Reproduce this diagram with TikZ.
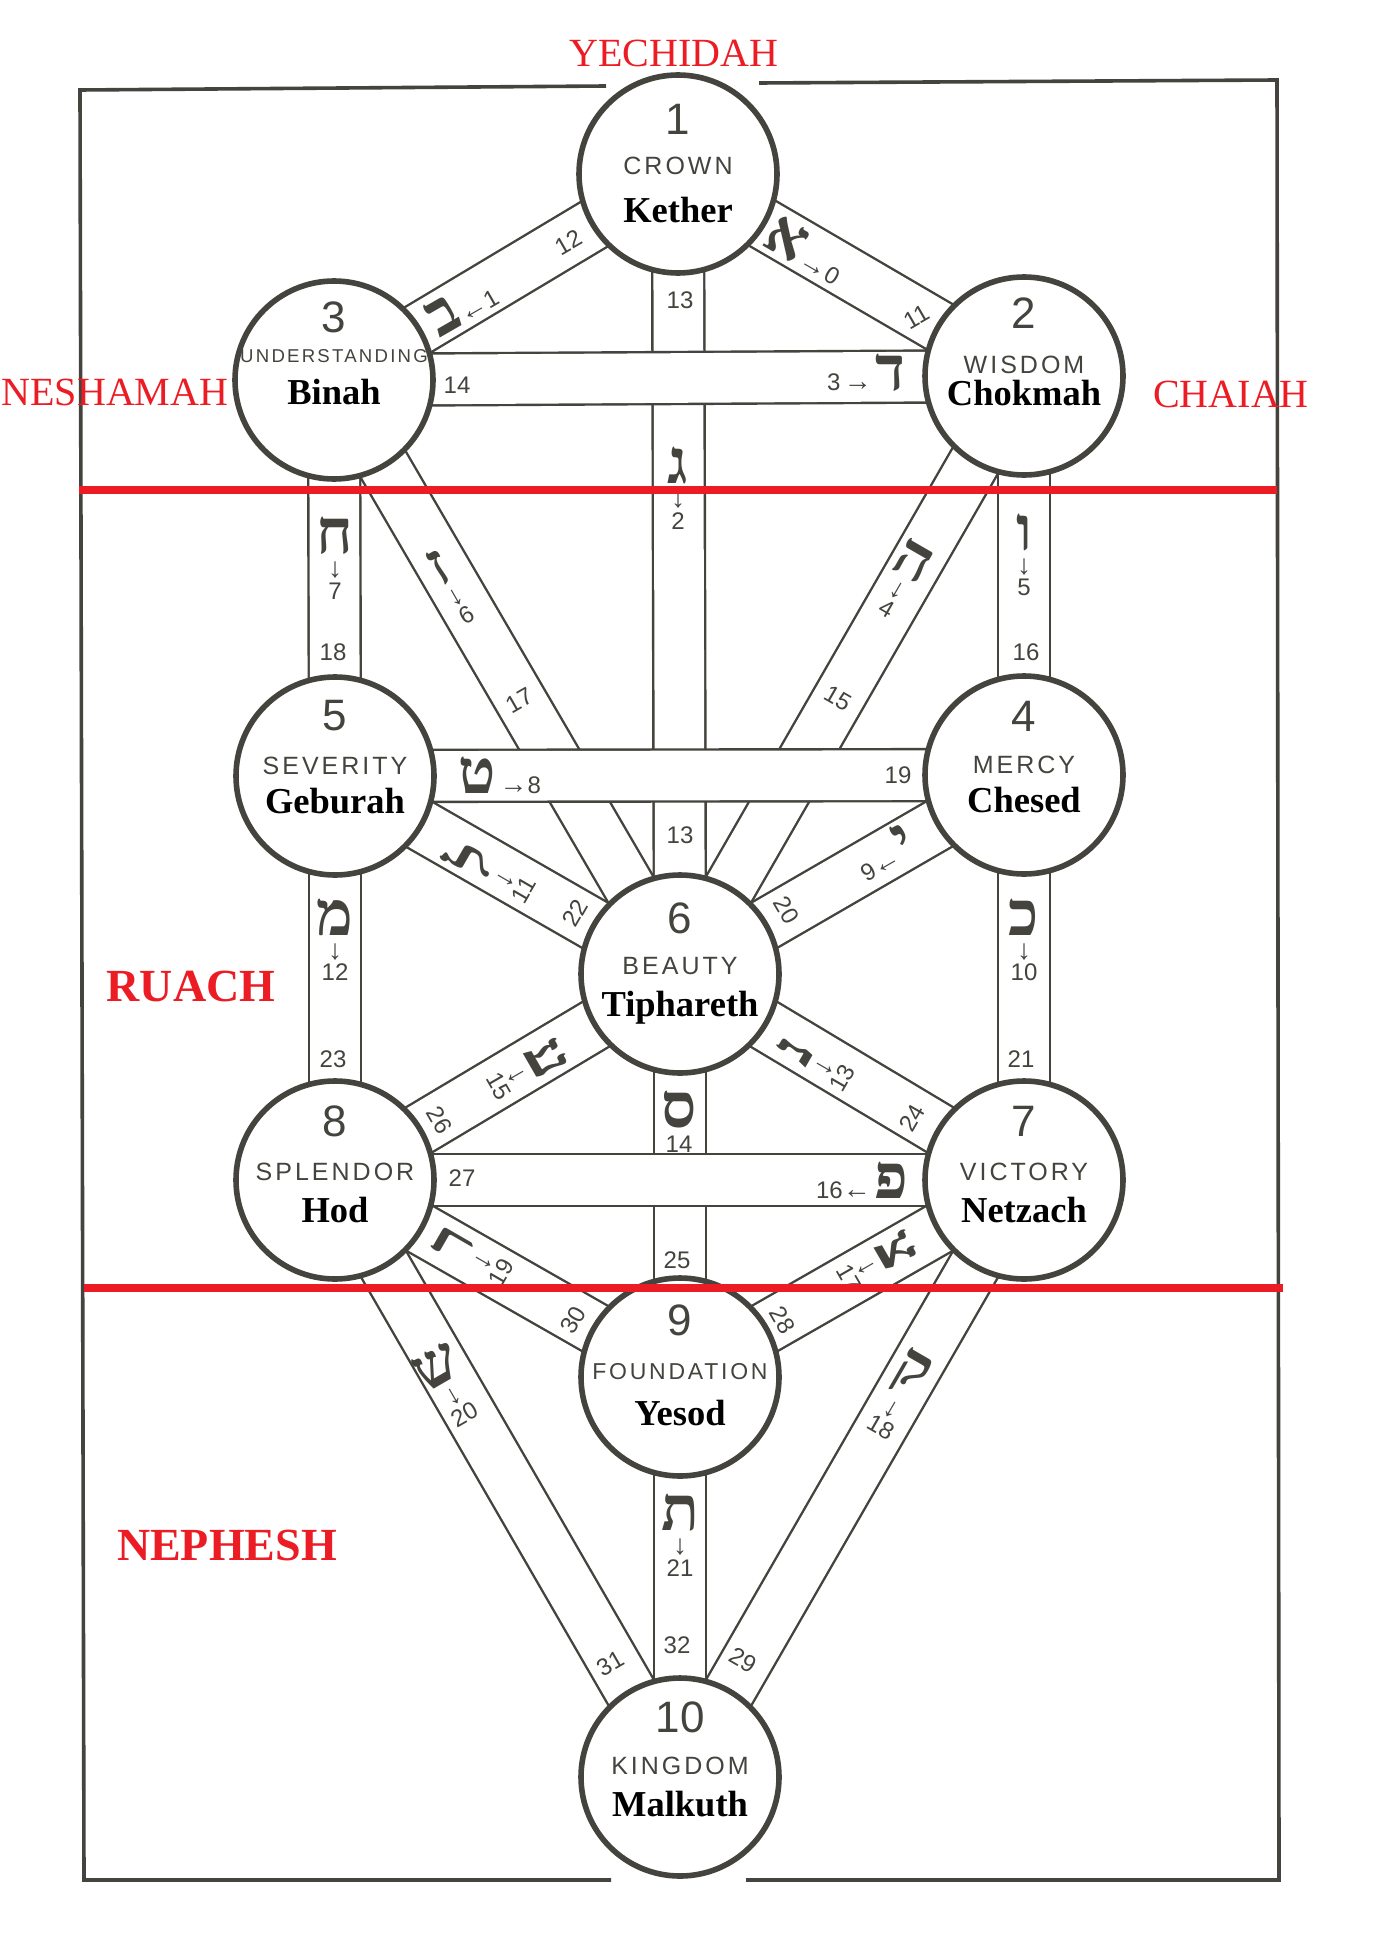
\documentclass[tikz,border=0pt]{standalone}
\usepackage{fontspec}
\setmainfont{Liberation Serif}
\setsansfont{Liberation Sans}
\newfontfamily\capfont[LetterSpace=12]{Liberation Sans}
\newfontfamily\hebfont[Script=Hebrew]{Liberation Serif}
\TeXXeTstate=1
\usepackage{tikz}
\usetikzlibrary{calc,backgrounds}
\definecolor{ink}{HTML}{44433D}
\definecolor{soulred}{HTML}{EC1C24}
% letter, arrow and number inside a path
\newcommand\hebl[1]{{\hebfont\bfseries\fontsize{31pt}{31pt}\selectfont\beginR#1\endR}}
\newcommand\arrw[1]{{\sffamily\bfseries\fontsize{14pt}{14pt}\selectfont#1}}
\newcommand\pnum[1]{{\sffamily\fontsize{12pt}{12pt}\selectfont#1}}

\begin{document}
\begin{tikzpicture}[x=0.5pt,y=-0.5pt,
  sefira/.style={circle,draw=ink,line width=2.8pt,fill=white,minimum size=99pt,inner sep=0pt},
  band/.style={draw=ink,line width=1.2pt,double=white,double distance=24.8pt},
  numtxt/.style={font=\sffamily\fontsize{22pt}{22pt}\selectfont,text=ink,inner sep=0pt,text height=15.7pt,text depth=0pt},
  captxt/.style={font=\capfont\fontsize{12.5pt}{12.5pt}\selectfont,text=ink,inner sep=0pt,text height=9pt,text depth=0pt},
  nametxt/.style={font=\bfseries\fontsize{18.25pt}{18.25pt}\selectfont,text=black,inner sep=0pt,text height=12pt,text depth=0pt},
  pathno/.style={font=\sffamily\fontsize{12pt}{12pt}\selectfont,text=ink,inner sep=0pt,text height=8.6pt,text depth=0pt},
  lstack/.style={align=center,inner sep=0pt,text=ink,font=\fontsize{1pt}{1pt}\selectfont},
  lrow/.style={inner sep=0pt,text=ink},
  edgeline/.style={draw=ink,line width=1.8pt},
  soulline/.style={draw=soulred,line width=4pt},
  soulname/.style={text=soulred,inner sep=0pt,font=\fontsize{20pt}{20pt}\selectfont,text height=13.2pt,text depth=0pt},
  bigsoul/.style={soulname,font=\bfseries\fontsize{23pt}{23pt}\selectfont,text height=15.2pt}]
\useasboundingbox (0,0) rectangle (1387,1958);

% the ten sephiroth
\node[sefira] (kether) at (678,174) {};
\node[numtxt] (kether-num) at ($(kether)+(0,-55)$) {1};
\node[captxt] (kether-cap) at ($(kether)+(0,-8)$) {CROWN};
\node[nametxt] (kether-name) at ($(kether)+(0,37)$) {Kether};

\node[sefira] (chokmah) at (1024,376) {};
\node[numtxt] (chokmah-num) at ($(chokmah)+(0,-63)$) {2};
\node[captxt] (chokmah-cap) at ($(chokmah)+(0,-12)$) {WISDOM};
\node[nametxt] (chokmah-name) at ($(chokmah)+(0,17)$) {Chokmah};

\node[sefira] (binah) at (334,380) {};
\node[numtxt] (binah-num) at ($(binah)+(0,-63)$) {3};
\node[captxt,font=\capfont\fontsize{9.3pt}{9.3pt}\selectfont,text height=6.7pt] (binah-cap) at ($(binah)+(0,-24)$) {UNDERSTANDING};
\node[nametxt] (binah-name) at ($(binah)+(0,12)$) {Binah};

\node[sefira] (chesed) at (1024,775) {};
\node[numtxt] (chesed-num) at ($(chesed)+(0,-59)$) {4};
\node[captxt] (chesed-cap) at ($(chesed)+(0,-11)$) {MERCY};
\node[nametxt] (chesed-name) at ($(chesed)+(0,25)$) {Chesed};

\node[sefira] (geburah) at (335,776) {};
\node[numtxt] (geburah-num) at ($(geburah)+(0,-61)$) {5};
\node[captxt] (geburah-cap) at ($(geburah)+(0,-11)$) {SEVERITY};
\node[nametxt] (geburah-name) at ($(geburah)+(0,25)$) {Geburah};

\node[sefira] (tiphareth) at (680,974) {};
\node[numtxt] (tiphareth-num) at ($(tiphareth)+(0,-56)$) {6};
\node[captxt] (tiphareth-cap) at ($(tiphareth)+(0,-9)$) {BEAUTY};
\node[nametxt] (tiphareth-name) at ($(tiphareth)+(0,30)$) {Tiphareth};

\node[sefira] (netzach) at (1024,1180) {};
\node[numtxt] (netzach-num) at ($(netzach)+(0,-59)$) {7};
\node[captxt] (netzach-cap) at ($(netzach)+(0,-9)$) {VICTORY};
\node[nametxt] (netzach-name) at ($(netzach)+(0,30)$) {Netzach};

\node[sefira] (hod) at (335,1180) {};
\node[numtxt] (hod-num) at ($(hod)+(0,-59)$) {8};
\node[captxt] (hod-cap) at ($(hod)+(0,-9)$) {SPLENDOR};
\node[nametxt] (hod-name) at ($(hod)+(0,30)$) {Hod};

\node[sefira] (yesod) at (680,1377) {};
\node[numtxt] (yesod-num) at ($(yesod)+(0,-57)$) {9};
\node[captxt,font=\capfont\fontsize{11.5pt}{11.5pt}\selectfont,text height=8.2pt] (yesod-cap) at ($(yesod)+(0,-6)$) {FOUNDATION};
\node[nametxt] (yesod-name) at ($(yesod)+(0,36)$) {Yesod};

\node[sefira] (malkuth) at (680,1777) {};
\node[numtxt] (malkuth-num) at ($(malkuth)+(0,-60)$) {10};
\node[captxt] (malkuth-cap) at ($(malkuth)+(0,-12)$) {KINGDOM};
\node[nametxt] (malkuth-name) at ($(malkuth)+(0,27)$) {Malkuth};

% the 22 paths, under the circles
\begin{scope}[on background layer]
\fill[white] (0,0) rectangle (1387,1958);
\draw[band] (kether.center) -- (chokmah.center);
\draw[band] (kether.center) -- (binah.center);
\draw[band] (kether.center) -- (tiphareth.center);
\draw[band] (binah.center) -- (chokmah.center);
\draw[band] (chokmah.center) -- (tiphareth.center);
\draw[band] (chokmah.center) -- (chesed.center);
\draw[band] (binah.center) -- (tiphareth.center);
\draw[band] (binah.center) -- (geburah.center);
\draw[band] (geburah.center) -- (chesed.center);
\draw[band] (chesed.center) -- (tiphareth.center);
\draw[band] (chesed.center) -- (netzach.center);
\draw[band] (geburah.center) -- (tiphareth.center);
\draw[band] (geburah.center) -- (hod.center);
\draw[band] (tiphareth.center) -- (netzach.center);
\draw[band] (tiphareth.center) -- (yesod.center);
\draw[band] (hod.center) -- (tiphareth.center);
\draw[band] (hod.center) -- (netzach.center);
\draw[band] (netzach.center) -- (yesod.center);
\draw[band] (netzach.center) -- (malkuth.center);
\draw[band] (hod.center) -- (yesod.center);
\draw[band] (hod.center) -- (malkuth.center);
\draw[band] (yesod.center) -- (malkuth.center);
\end{scope}

% path numbers
\node[pathno,rotate=30] (p11) at (916,317) {11};
\node[pathno,rotate=30] (p12) at (568,242) {12};
\node[pathno] (p13) at (680,300) {13};
\node[pathno] (p13b) at (680,835) {13};
\node[pathno] (p14) at (457,385) {14};
\node[pathno,rotate=-30] (p15) at (838,698) {15};
\node[pathno] (p16) at (1026,652) {16};
\node[pathno,rotate=30] (p17) at (519,700) {17};
\node[pathno] (p18) at (333,652) {18};
\node[pathno] (p19) at (898,775) {19};
\node[pathno,rotate=-60] (p20) at (787,910) {20};
\node[pathno] (p21) at (1021,1059) {21};
\node[pathno,rotate=60] (p22) at (575,913) {22};
\node[pathno] (p23) at (333,1059) {23};
\node[pathno,rotate=60] (p24) at (912,1118) {24};
\node[pathno] (p25) at (677,1260) {25};
\node[pathno,rotate=-60] (p26) at (440,1120) {26};
\node[pathno] (p27) at (462,1178) {27};
\node[pathno,rotate=-60] (p28) at (783,1320) {28};
\node[pathno,rotate=-30] (p29) at (743,1660) {29};
\node[pathno,rotate=60] (p30) at (573,1320) {30};
\node[pathno,rotate=30] (p31) at (610,1663) {31};
\node[pathno] (p32) at (677,1645) {32};

% letters with their numbers
\node[lrow,rotate=-30] (l11) at (806,250) {\hebl{א}\,\arrw{→}\pnum{0}};
\node[lrow,rotate=30] (l12) at (461,305) {\hebl{ב}\arrw{←}\pnum{1}};
\node[lstack] (l13) at (678,488) {\hebl{ג}\\[3pt]\arrw{↓}\\[1pt]\pnum{2}};
\node[lrow] (l14) at (866,373) {\pnum{3}\,\arrw{→}\,\hebl{ד}};
\node[lstack,rotate=-30] (l15) at (903,580) {\hebl{ה}\\[3pt]\arrw{↓}\\[1pt]\pnum{4}};
\node[lstack] (l16) at (1024,555) {\hebl{ו}\\[3pt]\arrw{↓}\\[1pt]\pnum{5}};
\node[lstack,rotate=30] (l17) at (450,587) {\hebl{ז}\\[3pt]\arrw{↓}\\[1pt]\pnum{6}};
\node[lstack] (l18) at (335,558) {\hebl{ח}\\[3pt]\arrw{↓}\\[1pt]\pnum{7}};
\node[lrow] (l19) at (500,775) {\hebl{ט}\,\arrw{→}\pnum{8}};
\node[lrow,rotate=30] (l20) at (884,852) {\pnum{9}\arrw{←}\,\hebl{י}};
\node[lstack] (l21) at (1024,940) {\hebl{כ}\\[3pt]\arrw{↓}\\[1pt]\pnum{10}};
\node[lstack,rotate=60] (l22) at (489,870) {\hebl{ל}\\[3pt]\arrw{↓}\\[1pt]\pnum{11}};
\node[lstack] (l23) at (335,940) {\hebl{מ}\\[3pt]\arrw{↓}\\[1pt]\pnum{12}};
\node[lstack,rotate=60] (l24) at (814,1062) {\hebl{נ}\\[3pt]\arrw{↓}\\[1pt]\pnum{13}};
\node[lstack] (l25) at (679,1122) {\hebl{ס}\\[3pt]\pnum{14}};
\node[lstack,rotate=-60] (l26) at (527,1070) {\hebl{ע}\\[3pt]\arrw{↓}\\[1pt]\pnum{15}};
\node[lrow] (l27) at (862,1180) {\pnum{16}\arrw{←}\,\hebl{פ}};
\node[lstack,rotate=-60] (l28) at (877,1262) {\hebl{צ}\\[3pt]\arrw{↓}\\[1pt]\pnum{17}};
\node[lstack,rotate=-30] (l29) at (900,1394) {\hebl{ק}\\[3pt]\arrw{↓}\\[1pt]\pnum{18}};
\node[lstack,rotate=60] (l30) at (473,1256) {\hebl{ר}\\[3pt]\arrw{↓}\\[1pt]\pnum{19}};
\node[lstack,rotate=30] (l31) at (448,1386) {\hebl{ש}\\[3pt]\arrw{↓}\\[1pt]\pnum{20}};
\node[lstack] (l32) at (680,1535) {\hebl{ת}\\[3pt]\arrw{↓}\\[1pt]\pnum{21}};

% frame, broken at crown and kingdom
\draw[edgeline] (606,86) -- (80,90) -- (84,1880) -- (611,1880);
\draw[edgeline] (746,1880) -- (1279,1880) -- (1277,80) -- (759,83);

% the parts of the soul
\draw[soulline] (79,490) -- (1277,490);
\draw[soulline] (84,1288) -- (1283,1288);
\node[soulname] (yechidah) at (674,53) {YECHIDAH};
\node[soulname] (neshamah) at (115,392) {NESHAMAH};
\node[soulname] (chaiah) at (1231,394) {CHAIAH};
\node[bigsoul] (ruach) at (191,986) {RUACH};
\node[bigsoul] (nephesh) at (227,1545) {NEPHESH};
\end{tikzpicture}
\end{document}
